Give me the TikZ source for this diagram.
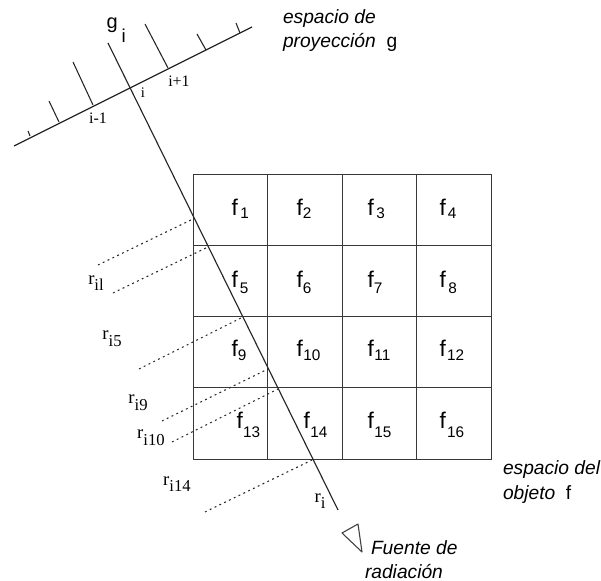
\documentclass[tikz,border=0pt]{standalone}
\usepackage{fontspec}
\setmainfont{Liberation Sans}
\newfontfamily\serifr{Liberation Serif}
% #1 kern (pt), #2 drop (pt), #3 digits
\newcommand{\fl}[3]{{\fontsize{17}{18}\selectfont f}\kern#1pt\raisebox{-#2pt}{\fontsize{11.5}{12}\selectfont #3}}
\newcommand{\rl}[1]{{\serifr\fontsize{14}{14}\selectfont r\raisebox{-5pt}{\fontsize{12.5}{12}\selectfont #1}}}
\tikzset{
  px/.style={x=0.75pt,y=-0.75pt},
  axisline/.style={draw=black!85,line width=0.85pt},
  gridline/.style={draw=black!78,line width=0.9pt},
  tickline/.style={draw=black!85,line width=0.8pt},
  rayline/.style={draw=black!85,line width=0.8pt,dash pattern=on 1.4pt off 2.6pt},
  lab/.style={inner sep=0pt,outer sep=0pt},
  cell/.style={lab,anchor=base west},
  note/.style={lab,font=\fontsize{14.4}{18.2}\selectfont\itshape,align=left,anchor=west}
}
\begin{document}
\begin{tikzpicture}[px]
\useasboundingbox (0,0) rectangle (601,581);
\fill[white] (0,0) rectangle (601,581);
% grid
\coordinate (gTL) at (193.5,174.5);
\coordinate (gBR) at (491.5,459.5);
\draw[gridline] (gTL) rectangle (gBR);
\foreach \x in {267.5,342.5,416.5} \draw[gridline] (\x,174.5) -- (\x,459.5);
\foreach \y in {245.5,316.5,387.5} \draw[gridline] (193.5,\y) -- (491.5,\y);
% main ray
\coordinate (rayA) at (108,43);
\coordinate (rayB) at (338,510);
\draw[axisline] (rayA) -- (rayB);
% projection axis
\coordinate (axA) at (14,146);
\coordinate (axB) at (252,27);
\draw[axisline] (axA) -- (axB);
\coordinate (t1a) at (30,136); \coordinate (t1b) at (28,131);
\coordinate (t2a) at (59,122); \coordinate (t2b) at (49,101);
\coordinate (t3a) at (93,105); \coordinate (t3b) at (73,62);
\coordinate (t4a) at (168,68); \coordinate (t4b) at (145,24);
\coordinate (t5a) at (206,50); \coordinate (t5b) at (197,34);
\coordinate (t6a) at (240,33); \coordinate (t6b) at (236,23);
\foreach \n in {1,...,6} \draw[tickline] (t\n a) -- (t\n b);
% dotted rays
\coordinate (d1a) at (98,265);  \coordinate (d1b) at (193,219);
\coordinate (d2a) at (113,293); \coordinate (d2b) at (208,247);
\coordinate (d3a) at (139,369); \coordinate (d3b) at (243,317);
\coordinate (d4a) at (162,421); \coordinate (d4b) at (268,369);
\coordinate (d5a) at (172,442); \coordinate (d5b) at (278,389);
\coordinate (d6a) at (205,512); \coordinate (d6b) at (312,460);
\foreach \n in {1,...,6} \draw[rayline] (d\n a) -- (d\n b);
% source triangle
\draw[draw=black!75,line width=0.8pt,line join=round] (342,533) -- (358,524) -- (362,552) -- cycle;
% cell labels
\node[cell] (f1) at (231.5,216) {\fl{1.9}{1.8}{1}};
\node[cell] (f2) at (296.5,216) {\fl{0}{1.8}{2}};
\node[cell] (f3) at (367.5,216) {\fl{2}{1.8}{3}};
\node[cell] (f4) at (439.5,216) {\fl{1.5}{1.8}{4}};
\node[cell] (f5) at (231.5,288) {\fl{1.5}{4.5}{5}};
\node[cell] (f6) at (296.5,288) {\fl{0}{4.5}{6}};
\node[cell] (f7) at (367.5,288) {\fl{0}{4.5}{7}};
\node[cell] (f8) at (439.5,288) {\fl{2}{4.5}{8}};
\node[cell] (f9) at (231.5,357) {\fl{0}{3}{9}};
\node[cell] (f10) at (296.5,357) {\fl{0.5}{3}{10}};
\node[cell] (f11) at (367.5,357) {\fl{0.5}{3}{11}};
\node[cell] (f12) at (439.5,357) {\fl{1}{3}{12}};
\node[cell] (f13) at (236.5,429) {\fl{0.3}{6.7}{13}};
\node[cell] (f14) at (303.5,429) {\fl{0.5}{6.7}{14}};
\node[cell] (f15) at (367.5,429) {\fl{0.5}{6.7}{15}};
\node[cell] (f16) at (439.5,429) {\fl{1}{6.7}{16}};
% ray labels
\node[lab] (ril) at (96,283) {\rl{il}};
\node[lab] (ri5) at (112,339) {\rl{i5}};
\node[lab] (ri9) at (138,403) {\rl{i9}};
\node[lab] (ri10) at (151,438) {\rl{i10}};
\node[lab] (ri14) at (177,484) {\rl{i14}};
\node[lab] (ri) at (320,501) {\rl{i}};
% axis labels
\node[lab,font=\serifr\fontsize{12}{10}\selectfont] (im) at (98,118) {i-1};
\node[lab,font=\serifr\fontsize{11}{10}\selectfont] (i0) at (143,93) {i};
\node[lab,font=\serifr\fontsize{12}{10}\selectfont] (ip) at (179,81) {i+1};
\node[lab,anchor=base west] (gi) at (106.5,29) {\fontsize{15}{14}\selectfont g\raisebox{-10.5pt}{\kern3pt\fontsize{14}{14}\selectfont i}};
% notes
\node[note] (n1) at (283,30.5) {espacio de\\proyección\ \ {\upshape g}};
\node[note] (n2) at (503,482) {espacio del\\objeto\ \ {\upshape f}};
\node[note] (n3) at (365,559.5) {\kern4.5pt Fuente de\\radiación};
\end{tikzpicture}
\end{document}
